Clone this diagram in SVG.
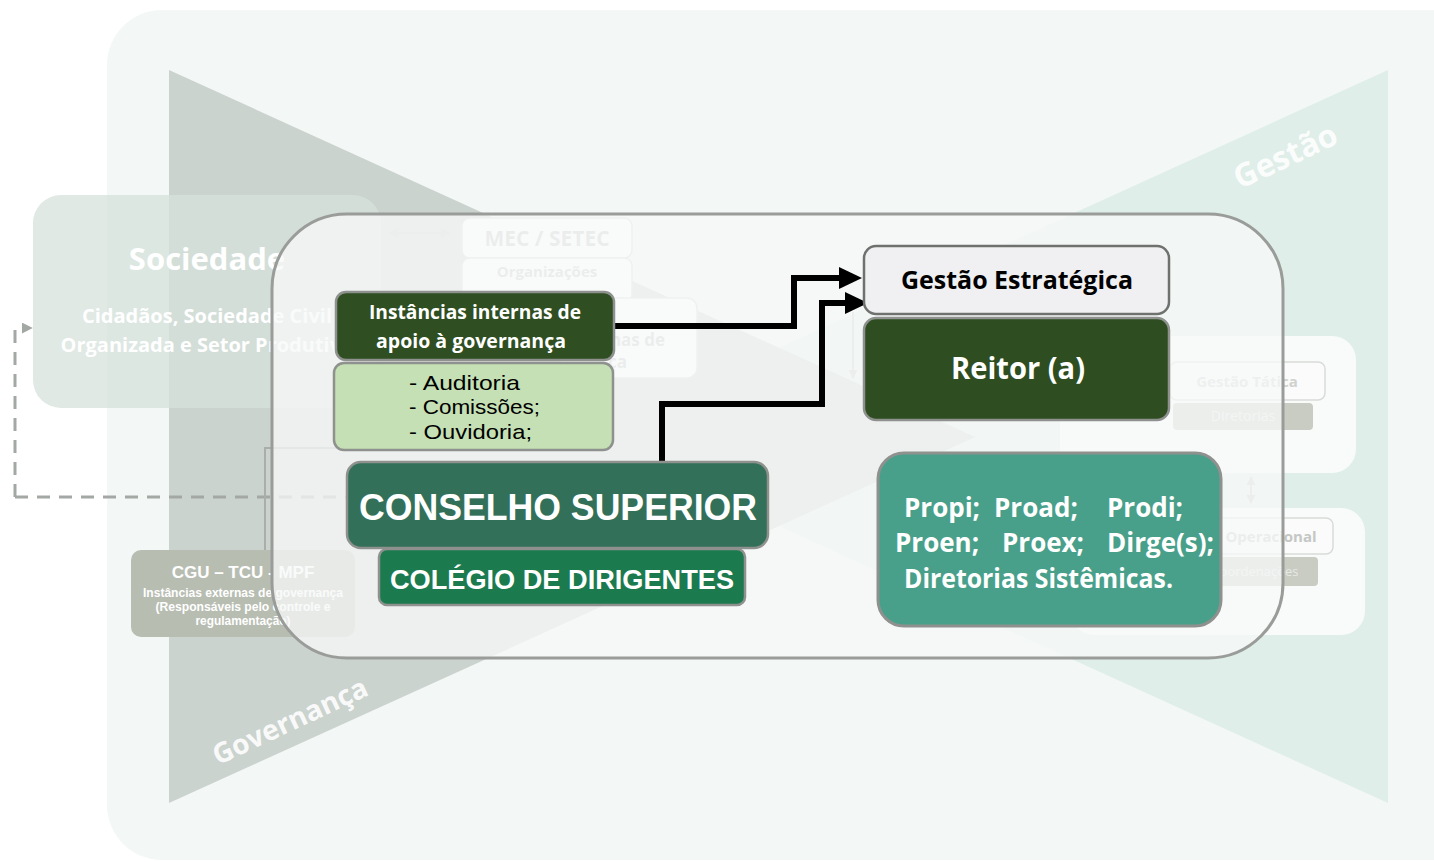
<svg xmlns="http://www.w3.org/2000/svg" width="1434" height="862" viewBox="0 0 1434 862">
<defs>
<style>
.cal{font-family:"Open Sans","Noto Sans","DejaVu Sans",sans-serif;font-weight:bold}
.calr{font-family:"Open Sans","Noto Sans","DejaVu Sans",sans-serif;font-weight:normal}
.lst{font-family:"Liberation Sans",Arial,sans-serif;font-weight:normal}
.ar{font-family:"Liberation Sans",Arial,sans-serif;font-weight:bold}
.node{stroke:#8e918e;stroke-width:2.5}
.conn{fill:none;stroke:#000;stroke-width:6;stroke-linejoin:miter}
.faint{fill:none;stroke:#c9cdca;stroke-width:2}
</style>
<marker id="ah" viewBox="0 0 23 22" refX="1" refY="11" markerWidth="23" markerHeight="22" markerUnits="userSpaceOnUse" orient="auto">
<path d="M0,0 L23,11 L0,22 Z" fill="#000"/>
</marker>
<marker id="fah" viewBox="0 0 10 10" refX="9" refY="5" markerWidth="9" markerHeight="9" markerUnits="userSpaceOnUse" orient="auto-start-reverse">
<path d="M0,0 L10,5 L0,10 Z" fill="#c9cdca"/>
</marker>
<marker id="dah" viewBox="0 0 10 10" refX="2" refY="5" markerWidth="11" markerHeight="11" markerUnits="userSpaceOnUse" orient="auto">
<path d="M0,0 L10,5 L0,10 Z" fill="#a3a8a5"/>
</marker>
</defs>

<!-- background -->
<g id="background">
<rect x="0" y="0" width="1434" height="862" fill="#ffffff"/>
<rect x="107" y="10" width="1390" height="850" rx="55" fill="#f3f7f6"/>
<polygon points="1388,70 583,437 1388,803" fill="#dfeee8"/>
<polygon points="169,70 975,437 169,803" fill="#cbd3ce"/>
<text class="cal" x="0" y="0" font-size="32" fill="#ffffff" fill-opacity="0.9" text-anchor="middle" transform="translate(1290,166) rotate(-25)">Gestão</text>
<text class="cal" x="0" y="0" font-size="28" fill="#ffffff" fill-opacity="0.9" text-anchor="middle" transform="translate(294,730) rotate(-25)">Governança</text>
</g>

<!-- faded background diagram -->
<g id="sociedade">
<rect x="33" y="195" width="348" height="213" rx="28" fill="#d6e2db" fill-opacity="0.75"/>
<text class="cal" x="207" y="270" font-size="31" fill="#ffffff" text-anchor="middle">Sociedade</text>
<text class="cal" x="207" y="323" font-size="20" fill="#ffffff" text-anchor="middle" font-weight="600">Cidadãos, Sociedade Civil</text>
<text class="cal" x="207" y="352" font-size="20" fill="#ffffff" text-anchor="middle" font-weight="600">Organizada e Setor Produtivo</text>
</g>
<g id="cgu">
<rect x="131" y="550" width="224" height="87" rx="10" fill="#b8bdb2"/>
<text class="ar" x="243" y="578" font-size="17" fill="#ffffff" text-anchor="middle">CGU – TCU - MPF</text>
<text class="ar" x="243" y="597" font-size="12" fill="#ffffff" text-anchor="middle" textLength="200" lengthAdjust="spacingAndGlyphs">Instâncias externas de governança</text>
<text class="ar" x="243" y="611" font-size="12" fill="#ffffff" text-anchor="middle" textLength="175" lengthAdjust="spacingAndGlyphs">(Responsáveis pelo controle e</text>
<text class="ar" x="243" y="625" font-size="12" fill="#ffffff" text-anchor="middle" textLength="95" lengthAdjust="spacingAndGlyphs">regulamentação)</text>
</g>
<g id="mec">
<rect x="462" y="218" width="170" height="40" rx="8" fill="#ffffff" stroke="#d5d9d6" stroke-width="1.5"/>
<text class="cal" x="547" y="246" font-size="21" fill="#c4cac6" text-anchor="middle">MEC / SETEC</text>
<rect x="462" y="258" width="170" height="44" rx="8" fill="#ffffff" stroke="#d5d9d6" stroke-width="1.5"/>
<text class="cal" x="547" y="277" font-size="15" fill="#c4cac6" text-anchor="middle">Organizações</text>
</g>
<g id="internas-bg">
<rect x="560" y="298" width="137" height="80" rx="10" fill="#ffffff" stroke="#d5d9d6" stroke-width="1.5"/>
<text class="cal" x="665" y="346" font-size="17" fill="#c4cac6" text-anchor="end">nas de</text>
<text class="cal" x="627" y="368" font-size="17" fill="#c4cac6" text-anchor="end">ça</text>
</g>
<g id="tatica">
<rect x="1060" y="336" width="296" height="137" rx="24" fill="#f9fbfa"/>
<rect x="1170" y="362" width="155" height="38" rx="7" fill="#fbfbfb" stroke="#d9dbd9" stroke-width="1.5"/>
<text class="cal" x="1247" y="387" font-size="15" fill="#cfd2cf" text-anchor="middle">Gestão Tática</text>
<rect x="1173" y="403" width="140" height="27" rx="4" fill="#c9ccc3"/>
<text class="calr" x="1243" y="421" font-size="14" fill="#e6e8e3" text-anchor="middle">Diretorias</text>
</g>
<g id="operacional">
<rect x="1070" y="508" width="295" height="127" rx="24" fill="#f9fbfa"/>
<rect x="1160" y="518" width="173" height="36" rx="7" fill="#fbfbfb" stroke="#d9dbd9" stroke-width="1.5"/>
<text class="cal" x="1271" y="542" font-size="15" fill="#c4c7c4" text-anchor="middle">Operacional</text>
<rect x="1170" y="557" width="148" height="29" rx="4" fill="#c9ccc3"/>
<text class="calr" x="1255" y="576" font-size="13" fill="#e6e8e3" text-anchor="middle">Coordenações</text>
</g>
<g id="faint-connectors">
<path d="M15,497 V328 H24" fill="none" stroke="#a3a8a5" stroke-width="3" stroke-dasharray="13,9" marker-end="url(#dah)"/>
<path d="M15,497 H350" fill="none" stroke="#a3a8a5" stroke-width="3" stroke-dasharray="13,9"/>
<path d="M265,550 V448 H340" fill="none" stroke="#a9aeaa" stroke-width="2"/>
<path class="faint" d="M390,233 H449" marker-start="url(#fah)" marker-end="url(#fah)"/>
<path class="faint" d="M853,312 V378" marker-end="url(#fah)"/>
<path class="faint" d="M1251,477 V503" marker-start="url(#fah)" marker-end="url(#fah)"/>
</g>

<!-- translucent frame -->
<g id="frame">
<rect x="272" y="214" width="1011" height="444" rx="75" fill="#f7f8f8" fill-opacity="0.76" stroke="#9a9c9a" stroke-width="3"/>
</g>

<!-- connectors -->
<g id="connectors">
<path class="conn" d="M614,326 H794 V278 H840" marker-end="url(#ah)"/>
<path class="conn" d="M662,462 V404 H822 V303 H846" marker-end="url(#ah)"/>
</g>

<!-- main nodes -->
<g id="instancias">
<rect class="node" x="336" y="292" width="278" height="68" rx="10" fill="#2f4e21"/>
<text class="cal" x="475" y="319" font-size="19" fill="#ffffff" text-anchor="middle" textLength="212" lengthAdjust="spacingAndGlyphs">Instâncias internas de</text>
<text class="cal" x="471" y="348" font-size="19" fill="#ffffff" text-anchor="middle" textLength="190" lengthAdjust="spacingAndGlyphs">apoio à governança</text>
</g>
<g id="apoio-lista">
<rect class="node" x="334" y="363" width="279" height="87" rx="10" fill="#c5e0b4"/>
<text class="lst" x="409" y="390" font-size="21" fill="#000000" textLength="111" lengthAdjust="spacingAndGlyphs">- Auditoria</text>
<text class="lst" x="409" y="414" font-size="21" fill="#000000" textLength="131" lengthAdjust="spacingAndGlyphs">- Comissões;</text>
<text class="lst" x="409" y="439" font-size="21" fill="#000000" textLength="123" lengthAdjust="spacingAndGlyphs">- Ouvidoria;</text>
</g>
<g id="conselho">
<rect class="node" x="347" y="462" width="421" height="86" rx="14" fill="#33705a"/>
<text class="ar" x="558" y="520" font-size="36" fill="#ffffff" text-anchor="middle" textLength="398" lengthAdjust="spacingAndGlyphs">CONSELHO SUPERIOR</text>
</g>
<g id="colegio">
<rect class="node" x="379" y="549" width="366" height="56" rx="8" fill="#1c7a4f"/>
<text class="ar" x="562" y="589" font-size="27" fill="#ffffff" text-anchor="middle" textLength="344" lengthAdjust="spacingAndGlyphs">COLÉGIO DE DIRIGENTES</text>
</g>
<g id="gestao-estrategica">
<rect x="864" y="246" width="305" height="68" rx="12" fill="#f0f0f2" stroke="#6f716f" stroke-width="2.5"/>
<text class="cal" x="1017" y="289" font-size="25" fill="#000000" text-anchor="middle" textLength="232" lengthAdjust="spacingAndGlyphs">Gestão Estratégica</text>
</g>
<g id="reitor">
<rect class="node" x="864" y="318" width="305" height="102" rx="12" fill="#2e4e21"/>
<text class="cal" x="1018" y="379" font-size="31" fill="#ffffff" text-anchor="middle" textLength="134" lengthAdjust="spacingAndGlyphs">Reitor (a)</text>
</g>
<g id="pro-reitorias">
<rect x="878" y="453" width="343" height="173" rx="26" fill="#48a08b" stroke="#8e918e" stroke-width="3"/>
<text class="cal" font-size="26" fill="#ffffff">
<tspan x="904" y="517">Propi;</tspan><tspan x="994" y="517">Proad;</tspan><tspan x="1107" y="517">Prodi;</tspan>
</text>
<text class="cal" font-size="26" fill="#ffffff">
<tspan x="895" y="552">Proen;</tspan><tspan x="1002" y="552">Proex;</tspan><tspan x="1107" y="552">Dirge(s);</tspan>
</text>
<text class="cal" x="904" y="588" font-size="26" fill="#ffffff" textLength="269" lengthAdjust="spacingAndGlyphs">Diretorias Sistêmicas.</text>
</g>
</svg>
